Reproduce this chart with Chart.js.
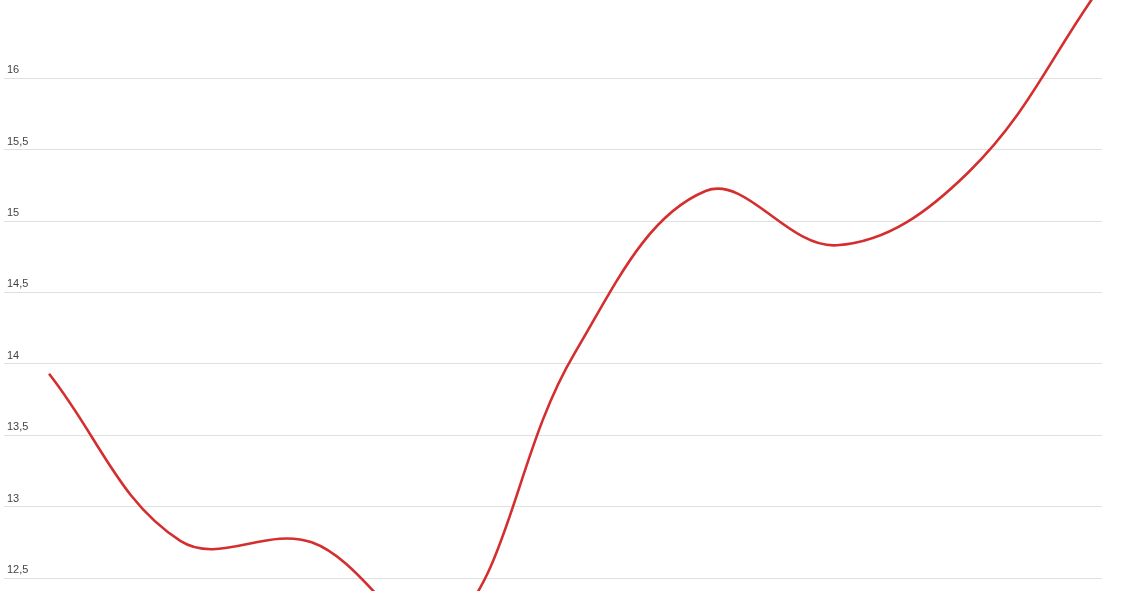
<!DOCTYPE html>
<html>
<head>
<meta charset="utf-8">
<title>Line chart</title>
<script src="https://cdn.jsdelivr.net/npm/chart.js@4/dist/chart.umd.min.js"></script>
<style>
  html, body { margin: 0; padding: 0; background: #fff; }
  #wrap { width: 1128px; height: 591px; position: relative; }
</style>
</head>
<body>
<div id="wrap"><canvas id="lineChart"></canvas></div>
<script>
// periods (x position of each reading) and the readings themselves
var periods = [1, 2, 3, 4, 5, 6, 7, 8, 9];
var readings = [13.93, 12.76, 12.75, 12.12, 14.07, 15.21, 14.83, 15.34, 16.63];
var yTicks = [12.5, 13, 13.5, 14, 14.5, 15, 15.5, 16];

var points = [];
for (var i = 0; i < periods.length; i++) {
    points.push({ x: periods[i], y: readings[i] });
}

formatTick = function (v) {
    return String(v).replace('.', ',');
}

var ctx = document.getElementById('lineChart');
var lineChart = new Chart(ctx, {
    type: 'line',
    data: {
        datasets: [{
            data: points,
            borderColor: '#d42e2e',
            borderWidth: 2.6,
            tension: 0.38,
            pointRadius: 0,
            fill: false
        }]
    },
    options: {
        responsive: true,
        maintainAspectRatio: false,
        animation: false,
        layout: { padding: { left: 4, right: 26, top: 0, bottom: 0 } },
        plugins: { legend: { display: false }, tooltip: { enabled: false } },
        scales: {
            x: {
                type: 'linear',
                display: false,
                min: 0.657,
                max: 9.019
            },
            y: {
                min: 12.409,
                max: 16.548,
                border: { display: false },
                grid: { color: '#e0e0e0', lineWidth: 1, drawTicks: false },
                afterFit: function (scale) {
                    scale.width = 0;
                    scale.paddingTop = 0;
                    scale.paddingBottom = 0;
                },
                afterBuildTicks: function (scale) {
                    scale.ticks = yTicks.map(function (v) { return { value: v }; });
                },
                ticks: {
                    mirror: true,
                    padding: 3,
                    labelOffset: -8,
                    color: '#444',
                    font: { family: 'Arial, "Liberation Sans", sans-serif', size: 11 },
                    callback: function (v) { return formatTick(v); }
                }
            }
        }
    }
});
</script>
</body>
</html>
